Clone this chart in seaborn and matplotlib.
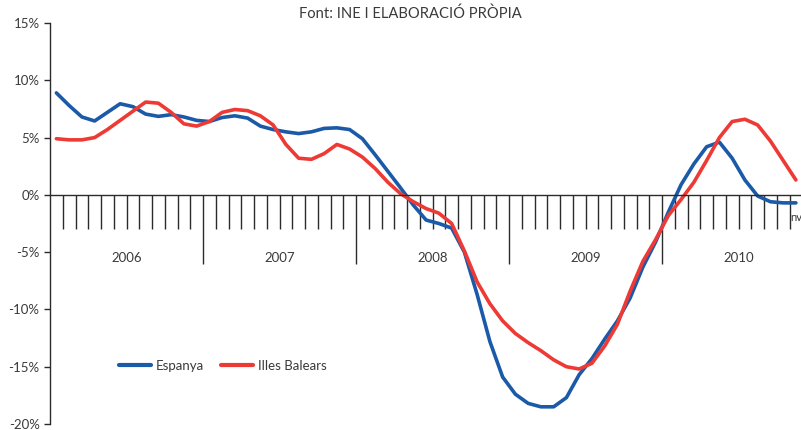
import numpy as np
import pandas as pd
import matplotlib
matplotlib.use("Agg")
import matplotlib.pyplot as plt
import seaborn as sns

# -------------------------
# Data (monthly rates, Jan 2006 - Nov 2010)
# -------------------------
years = ["2006", "2007", "2008", "2009", "2010"]
series_names = ["Espanya", "Illes Balears"]

espanya = [
    8.9, 7.8, 6.8, 6.45, 7.2, 7.95, 7.7, 7.05, 6.85, 7.0, 6.8, 6.5,
    6.4, 6.75, 6.9, 6.7, 6.0, 5.7, 5.5, 5.35, 5.5, 5.8, 5.85, 5.7,
    4.9, 3.5, 2.05, 0.6, -0.9, -2.2, -2.5, -2.9, -5.0, -8.7, -12.8, -15.9,
    -17.4, -18.2, -18.5, -18.5, -17.7, -15.7, -14.3, -12.6, -11.0, -9.0, -6.3, -4.1,
    -1.5, 0.9, 2.7, 4.2, 4.6, 3.2, 1.3, -0.1, -0.6, -0.7, -0.7,
]
balears = [
    4.9, 4.8, 4.8, 5.0, 5.7, 6.5, 7.3, 8.1, 8.0, 7.2, 6.2, 6.0,
    6.4, 7.2, 7.45, 7.35, 6.9, 6.1, 4.4, 3.2, 3.1, 3.6, 4.4, 4.0,
    3.3, 2.3, 1.1, 0.1, -0.6, -1.2, -1.6, -2.5, -4.9, -7.6, -9.5, -11.0,
    -12.1, -12.9, -13.6, -14.4, -15.0, -15.2, -14.7, -13.2, -11.3, -8.4, -5.8, -3.9,
    -1.8, -0.4, 1.1, 3.0, 5.0, 6.4, 6.6, 6.1, 4.7, 3.0, 1.3,
]
y_ticks = [-20, -15, -10, -5, 0, 5, 10, 15]

# -------------------------
# Build long table
# -------------------------
n = len(espanya)
month_pos = np.arange(n) + 0.5
df = pd.DataFrame({
    "mes": np.concatenate([month_pos, month_pos]),
    "valor": espanya + balears,
    "serie": [series_names[0]] * n + [series_names[1]] * n,
})

sns.set_style("white")
plt.rcParams["font.family"] = ["Lato", "DejaVu Sans"]

text_col = "#3a3a3a"
axis_col = "#2b2b2b"

fig = plt.figure(figsize=(8.01, 4.30), dpi=100)
ax = fig.add_axes([50 / 801, 6 / 430, 751 / 801, 401 / 430])

sns.lineplot(data=df, x="mes", y="valor", hue="serie",
             palette={"Espanya": "#1b5aa8", "Illes Balears": "#ee3a34"},
             linewidth=2.6, ax=ax, legend=True)
for ln in ax.get_lines():
    ln.set_solid_joinstyle("round")
    ln.set_solid_capstyle("round")

ax.set_xlim(0, 58.9)
ax.set_ylim(-20, 15)
ax.set_xlabel("")
ax.set_ylabel("")

# spines
ax.spines["top"].set_visible(False)
ax.spines["right"].set_visible(False)
ax.spines["bottom"].set_position(("data", 0))
for s in ["left", "bottom"]:
    ax.spines[s].set_color(axis_col)
    ax.spines[s].set_linewidth(1.0)

# y ticks
ax.set_yticks(y_ticks)
ax.set_yticklabels([f"{v}%" for v in y_ticks])
ax.tick_params(axis="y", left=True, direction="out", length=4.5, width=1.0,
               color=axis_col, labelsize=9.5, labelcolor=text_col, pad=3)

# x ticks: long ones at year boundaries, short ones at month boundaries
year_bounds = [12 * (k + 1) for k in range(len(years) - 1)]
month_bounds = [m for m in range(1, n) if m not in year_bounds]
ax.set_xticks(year_bounds)
ax.set_xticklabels([])
ax.set_xticks(month_bounds, minor=True)
ax.tick_params(axis="x", which="major", bottom=True, direction="out",
               length=50, width=1.0, color=axis_col)
ax.tick_params(axis="x", which="minor", bottom=True, direction="out",
               length=24.5, width=1.0, color=axis_col)

# year labels
for k, yr in enumerate(years):
    ax.text(12 * k + 6, -5.55, yr, ha="center", va="center",
            fontsize=9.5, color=text_col)

# truncated month label at the right edge
ax.text(58.05, -2.0, "nv", ha="left", va="center", fontsize=8,
        color=text_col, clip_on=False)

# title
fig.text(410 / 801, 1 - 14 / 430, "Font: INE I ELABORACIÓ PRÒPIA",
         ha="center", va="center", fontsize=10.6, color=text_col)

# legend
leg = ax.legend(loc="center left", bbox_to_anchor=(5.0 / 58.9, 5.1 / 35),
                ncol=2, frameon=False, fontsize=9.5, handlelength=2.4,
                handletextpad=0.4, columnspacing=1.3, borderaxespad=0)
for t in leg.get_texts():
    t.set_color(text_col)
for h in leg.get_lines():
    h.set_linewidth(3.0)

fig.savefig("out.png", dpi=100)
